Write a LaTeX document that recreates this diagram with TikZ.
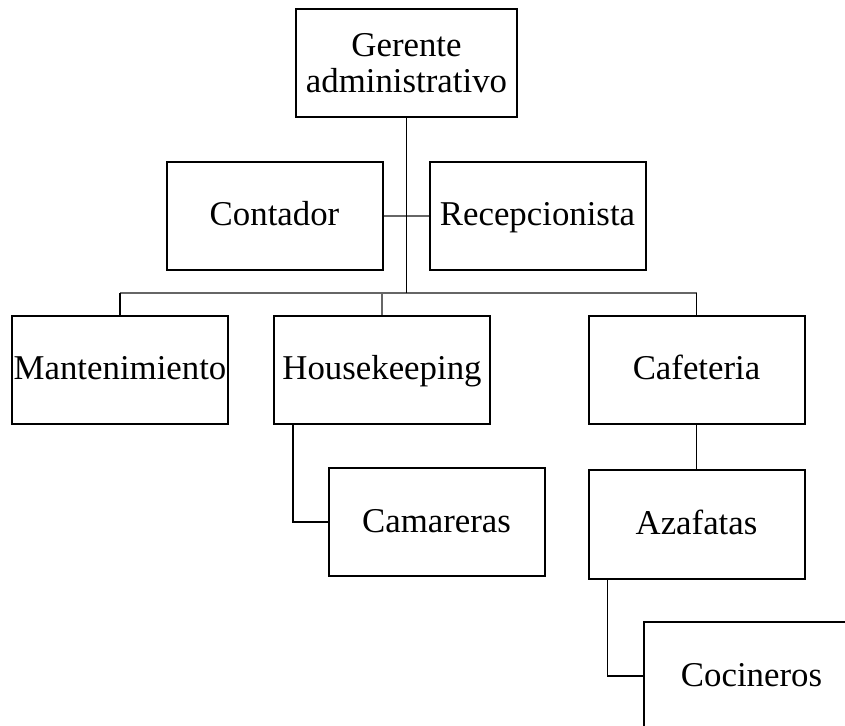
\documentclass[tikz,border=0pt]{standalone}
\usepackage{fontspec}
\setmainfont{Liberation Serif}
\usepackage{tikz}

\tikzset{
  box/.style={draw, line width=1pt, minimum width=108pt, minimum height=54pt,
    inner sep=0pt, align=center, font=\fontsize{17.4}{18}\selectfont},
  onebox/.style={box, text height=13pt, text depth=3pt},
  link/.style={line width=0.8pt},
  greylink/.style={line width=0.9pt, black!60},
}

\begin{document}
\begin{tikzpicture}[x=0.5pt,y=-0.5pt]
\useasboundingbox (0,0) rectangle (845,726);
\clip (0,0) rectangle (845,726);

% top
\node[box, minimum width=110.5pt] (ger) at (406.5,63) {Gerente\\administrativo};

% staff beside the manager
\node[onebox] (cont) at (274.5,216) {Contador};
\node[onebox] (recep) at (537.5,216) {Recepcionista};

% departments
\node[onebox] (mant) at (120,370) {Mantenimiento};
\node[onebox] (house) at (382,370) {Housekeeping};
\node[onebox] (cafe) at (696.5,370) {Cafeteria};

\node[onebox] (cam) at (436.5,522) {Camareras};
\node[onebox] (azaf) at (696.5,524.5) {Azafatas};
\node[onebox] (coc) at (751.5,676) {Cocineros};

\coordinate (bus) at (406.5,293);

\draw[greylink] (cont.east) -- (recep.west);
\draw[greylink] (mant.north |- bus) -- (cafe.north |- bus);
\draw[greylink] (bus) -| (house.north);
\draw[link] (ger.south) -- (bus);
\draw[link] (mant.north) -- (mant.north |- bus);
\draw[link] (cafe.north) -- (cafe.north |- bus);

\draw[link] ([xshift=10pt]house.south west) |- (cam.west);
\draw[link] (cafe.south) -- (azaf.north);
\draw[link] ([xshift=10pt]azaf.south west) |- (coc.west);

\end{tikzpicture}
\end{document}
